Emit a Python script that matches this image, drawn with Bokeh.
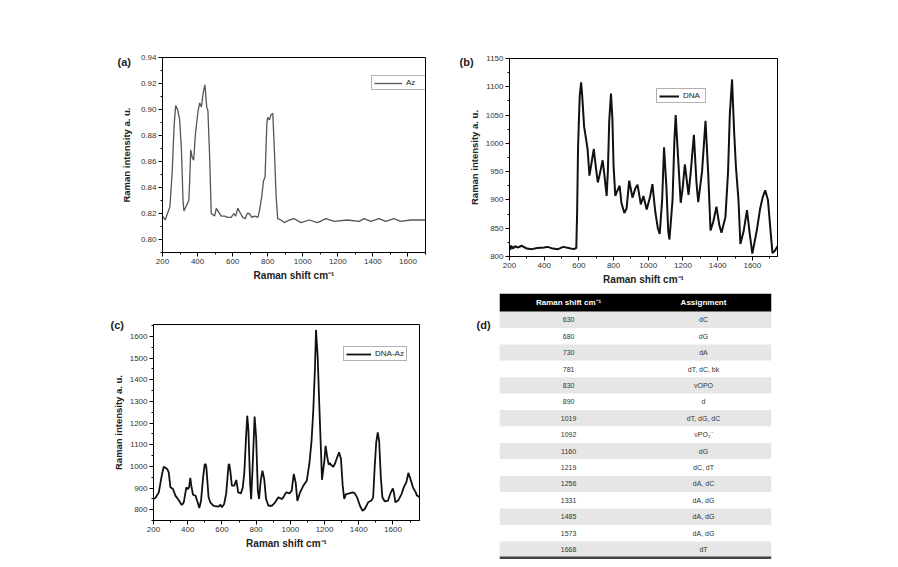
from bokeh.plotting import figure
from bokeh.layouts import row, column
from bokeh.models import Range1d, FixedTicker, PrintfTickFormatter, ColumnDataSource
from bokeh.embed import file_html
from bokeh.resources import INLINE
from bokeh.core.properties import value

# ---------------- data ----------------
# (a) Az
az_x = [200, 215, 242, 255, 266, 275, 286, 298, 308, 317,
        322, 336, 350, 355, 361, 370, 378, 387, 403, 412,
        422, 431, 442, 452, 459, 469, 478, 488, 497, 507,
        516, 535, 554, 573, 592, 607, 617, 630, 645, 658,
        672, 683, 696, 709, 725, 744, 753, 766, 776, 785,
        795, 800, 810, 819, 829, 838, 848, 857, 876, 895,
        923, 952, 990, 1037, 1084, 1132, 1179, 1255, 1321, 1350,
        1388, 1435, 1473, 1520, 1558, 1615, 1700]
az_y = [0.818, 0.815, 0.825, 0.851, 0.887, 0.903, 0.900, 0.892, 0.869, 0.830,
        0.822, 0.826, 0.830, 0.845, 0.869, 0.863, 0.861, 0.880, 0.899, 0.905,
        0.902, 0.912, 0.919, 0.902, 0.899, 0.863, 0.820, 0.819, 0.818, 0.824,
        0.822, 0.818, 0.818, 0.817, 0.817, 0.820, 0.818, 0.824, 0.820, 0.817,
        0.816, 0.820, 0.820, 0.817, 0.818, 0.817, 0.822, 0.833, 0.845, 0.848,
        0.889, 0.894, 0.892, 0.896, 0.897, 0.869, 0.833, 0.816, 0.815, 0.813,
        0.815, 0.816, 0.813, 0.815, 0.813, 0.816, 0.814, 0.815, 0.814, 0.816,
        0.814, 0.816, 0.814, 0.816, 0.814, 0.815, 0.815]

# (b) DNA
dna_x = [200, 205, 210, 220, 230, 250, 270, 300, 330, 360,
         400, 420, 450, 480, 510, 540, 570, 585, 590, 595,
         600, 605, 613, 620, 630, 640, 650, 661, 670, 686,
         695, 709, 720, 737, 745, 760, 767, 775, 785, 793,
         800, 810, 820, 835, 845, 862, 875, 890, 909, 925,
         938, 957, 972, 991, 1010, 1024, 1040, 1055, 1066, 1080,
         1091, 1105, 1115, 1122, 1140, 1150, 1158, 1170, 1187, 1198,
         1211, 1232, 1245, 1263, 1278, 1288, 1310, 1330, 1345, 1359,
         1375, 1393, 1410, 1422, 1445, 1460, 1470, 1483, 1495, 1505,
         1520, 1531, 1550, 1569, 1585, 1600, 1625, 1645, 1660, 1674,
         1690, 1705, 1716, 1730, 1745]
dna_y = [820, 812, 819, 814, 818, 816, 819, 814, 813, 815,
         816, 817, 814, 813, 817, 815, 813, 815, 880, 990,
         1040, 1085, 1108, 1080, 1030, 1010, 990, 943, 960, 990,
         965, 931, 945, 970, 950, 907, 950, 1040, 1088, 1045,
         960, 907, 915, 925, 895, 877, 885, 934, 904, 920,
         927, 892, 907, 883, 905, 928, 880, 850, 840, 900,
         993, 920, 845, 830, 900, 1000, 1050, 985, 895, 920,
         963, 909, 950, 1015, 930, 896, 950, 1040, 950, 846,
         862, 888, 855, 842, 870, 950, 1050, 1113, 1020, 960,
         900, 822, 845, 882, 840, 805, 845, 885, 905, 917,
         900, 845, 806, 810, 818]

# (c) DNA-Az
dnaaz_x = [200, 211, 231, 250, 260, 280, 289, 299, 314, 328,
           347, 361, 367, 377, 392, 400, 408, 415, 421, 431,
           445, 458, 468, 478, 490, 499, 505, 509, 522, 532,
           551, 581, 591, 600, 613, 625, 639, 643, 649, 658,
           672, 684, 695, 711, 722, 731, 740, 748, 755, 765,
           771, 781, 791, 800, 810, 817, 827, 837, 847, 858,
           872, 892, 911, 930, 950, 959, 975, 995, 1008, 1020,
           1031, 1041, 1057, 1076, 1096, 1111, 1124, 1134, 1144, 1150,
           1160, 1169, 1179, 1185, 1199, 1206, 1216, 1224, 1231, 1240,
           1251, 1260, 1274, 1285, 1296, 1306, 1315, 1325, 1345, 1364,
           1377, 1390, 1407, 1422, 1435, 1455, 1474, 1484, 1493, 1502,
           1511, 1519, 1529, 1538, 1552, 1571, 1585, 1599, 1605, 1614,
           1630, 1650, 1663, 1678, 1690, 1702, 1717, 1733, 1740, 1755]
dnaaz_y = [849, 854, 880, 965, 998, 988, 972, 903, 895, 865,
           845, 826, 822, 834, 903, 895, 903, 947, 911, 869,
           865, 834, 808, 842, 949, 1008, 1010, 995, 857, 834,
           818, 814, 823, 811, 826, 875, 1008, 1010, 980, 911,
           911, 937, 880, 875, 903, 972, 1118, 1234, 1165, 918,
           848, 1026, 1230, 1134, 888, 850, 934, 980, 942, 849,
           818, 818, 834, 857, 849, 857, 880, 875, 888, 965,
           926, 840, 880, 911, 934, 1011, 1118, 1257, 1457, 1630,
           1503, 1288, 1072, 938, 1026, 1095, 1042, 1008, 1015, 1005,
           998, 1011, 1042, 1065, 1034, 911, 850, 872, 875, 880,
           875, 857, 818, 795, 803, 834, 842, 857, 995, 1111,
           1157, 1118, 949, 857, 838, 842, 875, 898, 880, 834,
           842, 872, 903, 926, 970, 942, 903, 880, 865, 858]

# tick labels
x_ticks = [200, 400, 600, 800, 1000, 1200, 1400, 1600]
a_y_ticks = [0.80, 0.82, 0.84, 0.86, 0.88, 0.90, 0.92, 0.94]
b_y_ticks = [800, 850, 900, 950, 1000, 1050, 1100, 1150]
c_y_ticks = [800, 900, 1000, 1100, 1200, 1300, 1400, 1500, 1600]

# (d) table
table_shift = ["630", "680", "730", "781", "830", "890", "1019", "1092",
               "1160", "1219", "1256", "1331", "1485", "1573", "1668"]
table_assign = ["dC", "dG", "dA", "dT, dC, bk", "\u03bdOPO", "d", "dT, dG, dC",
                "\u03bdPO\u2082\u207b", "dG", "dC, dT", "dA, dC", "dA, dG",
                "dA, dG", "dA, dG", "dT"]
table_header = ["Raman shift cm\u207b\u00b9", "Assignment"]

FONT = "Liberation Sans"
XLABEL = "Raman shift cm\u207b\u00b9"
YLABEL = "Raman intensity a. u."


def style(p, yticks, yminor, yfmt, ylabel_standoff=4):
    p.outline_line_color = "black"
    p.outline_line_width = 1
    p.xgrid.visible = False
    p.ygrid.visible = False
    p.background_fill_color = "white"
    p.border_fill_color = "white"
    for ax in (p.xaxis[0], p.yaxis[0]):
        ax.major_tick_in = 0
        ax.major_tick_out = 4
        ax.minor_tick_in = 0
        ax.minor_tick_out = 2
        ax.axis_line_color = "black"
        ax.major_tick_line_color = "black"
        ax.minor_tick_line_color = "black"
        ax.major_label_text_font = FONT
        ax.major_label_text_font_size = "8px"
        ax.major_label_text_color = "#333333"
        ax.axis_label_text_font = FONT
        ax.axis_label_text_font_style = "bold"
        ax.axis_label_text_color = "#222222"
        ax.major_label_standoff = 2
    p.xaxis[0].axis_label = XLABEL
    p.xaxis[0].axis_label_text_font_size = "10px"
    p.xaxis[0].axis_label_standoff = 3
    p.yaxis[0].axis_label = YLABEL
    p.yaxis[0].axis_label_text_font_size = "9.5px"
    p.yaxis[0].axis_label_standoff = ylabel_standoff
    p.xaxis[0].ticker = FixedTicker(ticks=x_ticks,
                                    minor_ticks=[t + 100 for t in range(200, 1800, 200)])
    p.xaxis[0].formatter = PrintfTickFormatter(format="%d")
    p.yaxis[0].ticker = FixedTicker(ticks=yticks, minor_ticks=yminor)
    p.yaxis[0].formatter = PrintfTickFormatter(format=yfmt)


def style_legend(p, loc, gw):
    lg = p.legend[0]
    lg.location = loc
    lg.label_text_font = FONT
    lg.label_text_font_size = "8px"
    lg.label_text_color = "#222222"
    lg.glyph_height = 8
    lg.glyph_width = gw
    lg.label_height = 8
    lg.label_standoff = 4
    lg.padding = 2
    lg.spacing = 0
    lg.margin = 0
    lg.border_line_color = "#666666"
    lg.border_line_width = 1
    lg.background_fill_color = "white"
    lg.background_fill_alpha = 1


def panel_label(p, txt, offset, standoff):
    p.title.text = txt
    p.title.align = "left"
    p.title.offset = offset
    p.title.standoff = standoff
    p.title.text_font = FONT
    p.title.text_font_size = "11px"
    p.title.text_font_style = "bold"
    p.title.text_color = "#222222"


# ---------------- (a) ----------------
fa = figure(frame_width=263, frame_height=195, x_range=Range1d(200, 1700),
            y_range=Range1d(0.79, 0.94), min_border_left=162, min_border_right=10,
            min_border_top=57, min_border_bottom=38, toolbar_location=None,
            output_backend="svg")
fa.line(az_x, az_y, line_color="#555555", line_width=1.3, legend_label="Az")
style(fa, a_y_ticks, [0.79 + 0.01 * i for i in range(0, 16, 2)], "%.2f", 6)
style_legend(fa, (209, 162), 28)
panel_label(fa, "(a)", -45, -20)

# ---------------- (b) ----------------
fb = figure(frame_width=268, frame_height=198, x_range=Range1d(200, 1745),
            y_range=Range1d(800, 1150), min_border_left=74, min_border_right=10,
            min_border_top=58, min_border_bottom=34, toolbar_location=None,
            output_backend="svg")
fb.line(dna_x, dna_y, line_color="#111111", line_width=2, legend_label="DNA")
style(fb, b_y_ticks, [825 + 50 * i for i in range(7)], "%d", 3)
style_legend(fb, (147, 153), 20)
panel_label(fb, "(b)", -50, -18)

# ---------------- (c) ----------------
fc = figure(frame_width=266, frame_height=196, x_range=Range1d(200, 1755),
            y_range=Range1d(750, 1655), min_border_left=153, min_border_right=21,
            min_border_top=34, min_border_bottom=39, toolbar_location=None,
            output_backend="svg")
fc.line(dnaaz_x, dnaaz_y, line_color="#111111", line_width=1.8, legend_label="DNA-Az")
style(fc, c_y_ticks, [750 + 100 * i for i in range(10)], "%d", 3)
style_legend(fc, (190, 159), 25)
panel_label(fc, "(c)", -43, -12)

# ---------------- (d) table ----------------
n = len(table_shift)
tops = [n - i for i in range(n)]
bots = [n - 1 - i for i in range(n)]
mids = [n - 0.5 - i for i in range(n)]
fills = ["#e6e6e6" if i % 2 == 0 else "white" for i in range(n)]
src = ColumnDataSource(dict(top=tops, bottom=bots, mid=mids, fill=fills,
                            shift=table_shift, assign=table_assign))

ft = figure(frame_width=272, frame_height=266, x_range=Range1d(0, 1),
            y_range=Range1d(-0.1, n + 1.1), min_border_left=59, min_border_right=10,
            min_border_top=3, min_border_bottom=0, toolbar_location=None,
            output_backend="svg")
ft.axis.visible = False
ft.xgrid.visible = False
ft.ygrid.visible = False
ft.outline_line_color = None
ft.quad(left=0, right=1, top="top", bottom="bottom", fill_color="fill",
        line_color=None, source=src)
ft.quad(left=[0], right=[1], top=[n + 1.1], bottom=[n], fill_color="black", line_color=None)
ft.text(x=0.254, y="mid", text="shift", source=src, text_font=value(FONT),
        text_font_size="7px", text_color="#333333", text_align="center",
        text_baseline="middle")
ft.text(x=0.75, y="mid", text="assign", source=src, text_font=value(FONT),
        text_font_size="7px", text_color="#333333", text_align="center",
        text_baseline="middle")
ft.text(x=[0.254, 0.75], y=[n + 0.55, n + 0.55], text=table_header, text_font=value(FONT),
        text_font_size="8px", text_font_style="bold", text_color="white",
        text_align="center", text_baseline="middle")
ft.segment(x0=[0], x1=[1], y0=[0], y1=[0], line_color="#444444", line_width=2.5)
panel_label(ft, "(d)", -23, -74)

layout = column(row(column(fa), column(fb)), row(column(fc), column(ft)))
open("out.html", "w").write(file_html(layout, INLINE))
